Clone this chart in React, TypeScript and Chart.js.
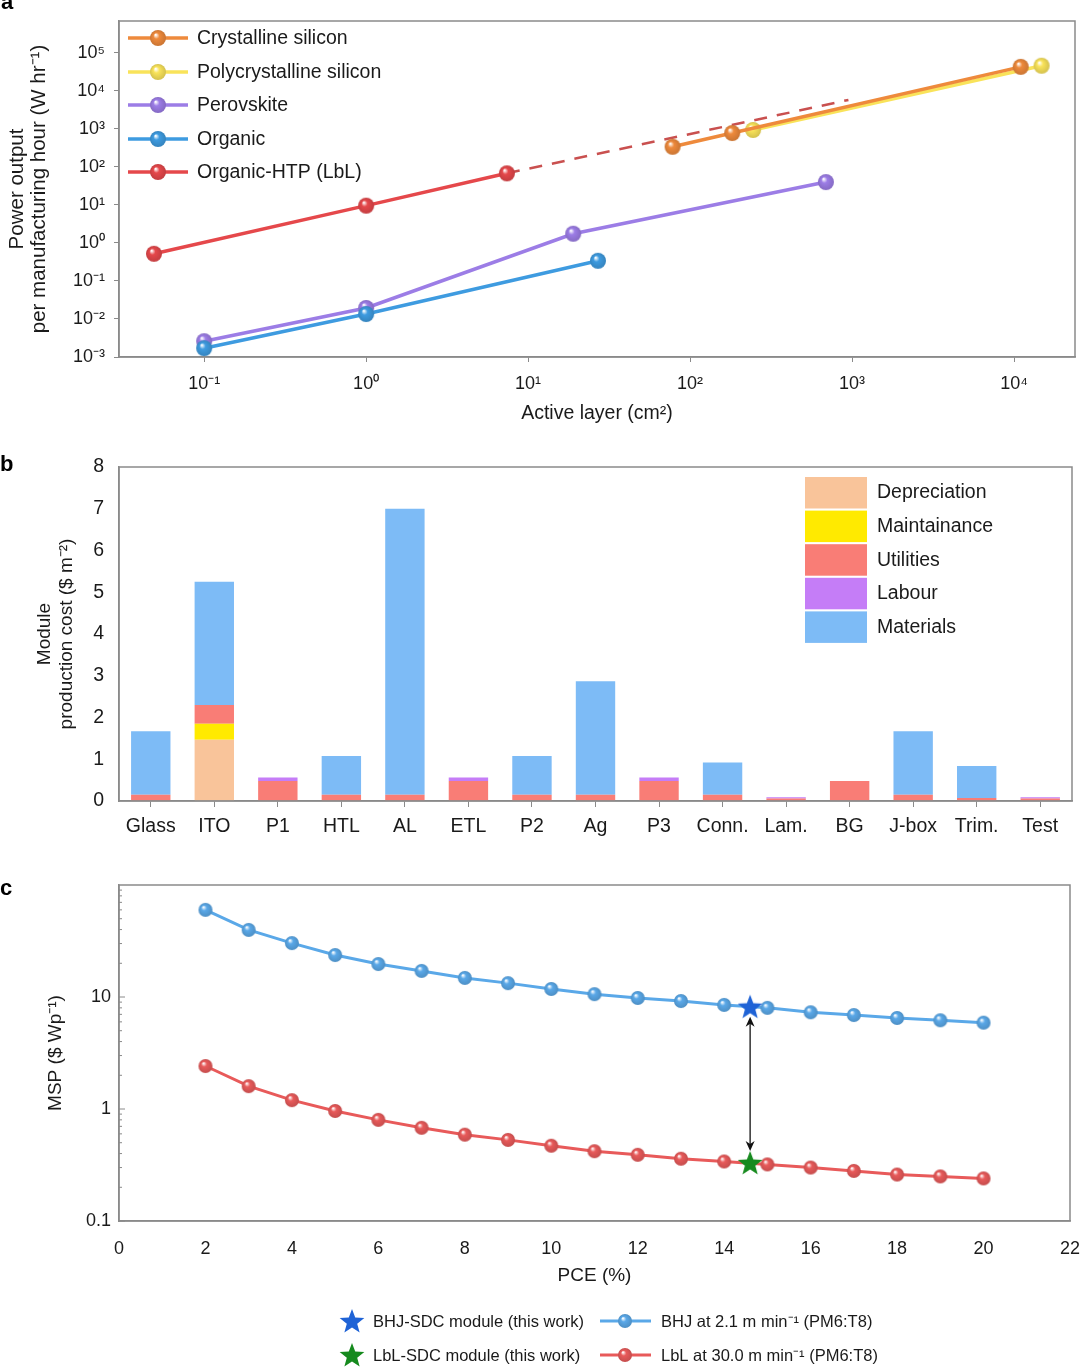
import React, { useEffect, useRef } from "react";
import { Chart, registerables } from "chart.js";
Chart.register(...registerables);

const FONT = "'Liberation Sans', Arial, Helvetica, sans-serif";
const TEXT = "#1a1a1a";
const GRAY = "#8a8a8a";

// ---------- Panel a data ----------
const crystallineX = [78, 182, 11000];
const crystallineY = [340, 780, 43000];
const polyX = [245, 14800];
const polyY = [940, 46000];
const perovskiteX = [0.1, 1, 19, 690];
const perovskiteY = [0.0026, 0.0195, 1.75, 40];
const organicX = [0.1, 1, 27];
const organicY = [0.0017, 0.0135, 0.34];
const lblX = [0.049, 1, 7.4];
const lblY = [0.52, 9.6, 68];
const lblProjX = [7.4, 950];
const lblProjY = [68, 5800];
const aXTicks = [0.1, 1, 10, 100, 1000, 10000];
const aYTicks = [1e-3, 1e-2, 1e-1, 1, 10, 100, 1000, 1e4, 1e5];
const aLegend = ["Crystalline silicon", "Polycrystalline silicon", "Perovskite", "Organic", "Organic-HTP (LbL)"];

// ---------- Panel b data ----------
const bCategories = ["Glass", "ITO", "P1", "HTL", "AL", "ETL", "P2", "Ag", "P3", "Conn.", "Lam.", "BG", "J-box", "Trim.", "Test"];
const depreciation = [0, 1.47, 0, 0, 0, 0, 0, 0, 0, 0, 0, 0, 0, 0, 0];
const maintainance = [0, 0.38, 0, 0, 0, 0, 0, 0, 0, 0, 0, 0, 0, 0, 0];
const utilities = [0.15, 0.45, 0.48, 0.15, 0.15, 0.48, 0.15, 0.15, 0.48, 0.15, 0.06, 0.48, 0.15, 0.07, 0.06];
const labour = [0, 0, 0.08, 0, 0, 0.08, 0, 0, 0.08, 0, 0.03, 0, 0, 0, 0.03];
const materials = [1.52, 2.95, 0, 0.93, 6.85, 0, 0.93, 2.72, 0, 0.77, 0, 0, 1.52, 0.77, 0];
const bLegend = ["Depreciation", "Maintainance", "Utilities", "Labour", "Materials"];

// ---------- Panel c data ----------
const pce = [2, 3, 4, 5, 6, 7, 8, 9, 10, 11, 12, 13, 14, 15, 16, 17, 18, 19, 20];
const bhjMsp = [60, 39.7, 30.3, 23.7, 19.7, 17.1, 14.8, 13.3, 11.8, 10.6, 9.8, 9.2, 8.5, 8.0, 7.3, 6.9, 6.5, 6.2, 5.9];
const lblMsp = [2.42, 1.6, 1.2, 0.96, 0.8, 0.68, 0.59, 0.53, 0.47, 0.42, 0.39, 0.36, 0.34, 0.32, 0.3, 0.28, 0.26, 0.25, 0.24];
const starPce = [14.6];
const bhjStarMsp = [8.2];
const lblStarMsp = [0.33];
const cYTicks = [0.1, 1, 10];
const cLegendStars = ["BHJ-SDC module (this work)", "LbL-SDC module (this work)"];
const cLegendLines = ["BHJ at 2.1 m min\u207B\u00B9 (PM6:T8)", "LbL at 30.0 m min\u207B\u00B9 (PM6:T8)"];

// ---------- colours ----------
const C_CRYST = "#EE8A3C";
const C_POLY = "#F9E35A";
const C_PERO = "#9C7DE6";
const C_ORG = "#3E9BE0";
const C_LBL = "#E5484B";
const C_DEP = "#F9C49A";
const C_MAINT = "#FFEA00";
const C_UTIL = "#F97D76";
const C_LAB = "#C57DF7";
const C_MAT = "#7DBBF6";
const C_BHJC = "#5AA8E8";
const C_LBLC = "#E85A5A";
const C_STAR_B = "#1F63D6";
const C_STAR_G = "#168A1E";

function shade(hex: string, f: number): string {
  const n = parseInt(hex.slice(1), 16);
  let r = (n >> 16) & 255, g = (n >> 8) & 255, b = n & 255;
  r = Math.max(0, Math.min(255, Math.round(r * (1 + f))));
  g = Math.max(0, Math.min(255, Math.round(g * (1 + f))));
  b = Math.max(0, Math.min(255, Math.round(b * (1 + f))));
  return `rgb(${r},${g},${b})`;
}

function makeSphere(color: string, r: number): HTMLCanvasElement {
  const s = Math.ceil(r * 2 + 2);
  const c = document.createElement("canvas");
  c.width = s;
  c.height = s;
  const g = c.getContext("2d")!;
  const cx = s / 2, cy = s / 2;
  const grad = g.createRadialGradient(cx - r * 0.3, cy - r * 0.4, r * 0.05, cx, cy, r);
  grad.addColorStop(0, "#ffffff");
  grad.addColorStop(0.35, color);
  grad.addColorStop(1, shade(color, -0.15));
  g.fillStyle = grad;
  g.beginPath();
  g.arc(cx, cy, r, 0, Math.PI * 2);
  g.fill();
  return c;
}

function makeStar(color: string, R: number): HTMLCanvasElement {
  const s = Math.ceil(R * 2 + 2);
  const c = document.createElement("canvas");
  c.width = s;
  c.height = s;
  const g = c.getContext("2d")!;
  const cx = s / 2, cy = s / 2 + 1;
  g.fillStyle = color;
  g.beginPath();
  for (let i = 0; i < 10; i++) {
    const rr = i % 2 === 0 ? R : R * 0.42;
    const a = -Math.PI / 2 + (i * Math.PI) / 5;
    const x = cx + rr * Math.cos(a), y = cy + rr * Math.sin(a);
    if (i === 0) g.moveTo(x, y);
    else g.lineTo(x, y);
  }
  g.closePath();
  g.fill();
  return c;
}

const SUP: Record<string, string> = {
  "-": "\u207B", "0": "\u2070", "1": "\u00B9", "2": "\u00B2", "3": "\u00B3",
  "4": "\u2074", "5": "\u2075", "6": "\u2076", "7": "\u2077", "8": "\u2078", "9": "\u2079",
};
function powLabel(v: number): string {
  const e = Math.round(Math.log10(v));
  return "10" + String(e).split("").map((ch) => SUP[ch]).join("");
}

function drawBox(ctx: CanvasRenderingContext2D, ca: any) {
  ctx.save();
  ctx.strokeStyle = GRAY;
  ctx.lineWidth = 1.5;
  ctx.strokeRect(ca.left, ca.top, ca.right - ca.left, ca.bottom - ca.top);
  ctx.restore();
}

function drawPanelLetter(ctx: CanvasRenderingContext2D, letter: string, x: number, y: number) {
  ctx.save();
  ctx.font = `bold 22px ${FONT}`;
  ctx.fillStyle = "#000";
  ctx.textBaseline = "alphabetic";
  ctx.textAlign = "left";
  ctx.fillText(letter, x, y);
  ctx.restore();
}

const pts = (xs: number[], ys: number[]) => xs.map((x, i) => ({ x, y: ys[i] }));
const fitX = (h: number) => (s: any) => { s.height = h; s.paddingLeft = 0; s.paddingRight = 0; };
const fitY = (w: number) => (s: any) => { s.width = w; s.paddingTop = 0; s.paddingBottom = 0; };

export default function App() {
  const refA = useRef<HTMLCanvasElement>(null);
  const refB = useRef<HTMLCanvasElement>(null);
  const refC = useRef<HTMLCanvasElement>(null);

  useEffect(() => {
    Chart.defaults.font.family = FONT;
    Chart.defaults.color = TEXT;

    // ---------------- Panel a ----------------
    const aColors = [C_CRYST, C_POLY, C_PERO, C_ORG, C_LBL];
    const aSpheres = aColors.map((c) => makeSphere(c, 8));
    const legendAY = [38, 72, 105, 139, 172];

    const plugA = {
      id: "plugA",
      afterDraw(chart: any) {
        const ctx = chart.ctx as CanvasRenderingContext2D;
        drawBox(ctx, chart.chartArea);
        ctx.save();
        ctx.font = `19.5px ${FONT}`;
        ctx.fillStyle = TEXT;
        ctx.textBaseline = "middle";
        aLegend.forEach((name, i) => {
          const y = legendAY[i];
          ctx.strokeStyle = aColors[i];
          ctx.lineWidth = 3.5;
          ctx.beginPath();
          ctx.moveTo(128, y);
          ctx.lineTo(188, y);
          ctx.stroke();
          const img = aSpheres[i];
          ctx.drawImage(img, 158 - img.width / 2, y - img.height / 2);
          ctx.fillText(name, 197, y + 1);
        });
        ctx.restore();
        drawPanelLetter(ctx, "a", 1, 9);
      },
    };

    const lineDs = (label: string, data: any[], color: string, sphere: HTMLCanvasElement) => ({
      label,
      data,
      showLine: true,
      borderColor: color,
      backgroundColor: color,
      borderWidth: 3.5,
      pointStyle: sphere,
      pointRadius: 8,
    });

    const chartA = new Chart(refA.current!, {
      type: "scatter",
      data: {
        datasets: [
          lineDs(aLegend[4], pts(lblX, lblY), C_LBL, aSpheres[4]),
          lineDs(aLegend[3], pts(organicX, organicY), C_ORG, aSpheres[3]),
          lineDs(aLegend[2], pts(perovskiteX, perovskiteY), C_PERO, aSpheres[2]),
          lineDs(aLegend[0], pts(crystallineX, crystallineY), C_CRYST, aSpheres[0]),
          lineDs(aLegend[1], pts(polyX, polyY), C_POLY, aSpheres[1]),
          {
            label: "LbL projection",
            data: pts(lblProjX, lblProjY),
            showLine: true,
            borderColor: "#C9504F",
            borderWidth: 2.5,
            borderDash: [13, 10],
            pointRadius: 0,
          } as any,
        ],
      },
      options: {
        animation: false,
        responsive: false,
        layout: { autoPadding: false, padding: { left: 0, right: 5, top: 21, bottom: 0 } },
        plugins: { legend: { display: false }, tooltip: { enabled: false } },
        scales: {
          x: {
            type: "logarithmic",
            min: 0.0298,
            max: 23800,
            bounds: "data",
            afterFit: fitX(83),
            afterBuildTicks: (s: any) => { s.ticks = aXTicks.map((v) => ({ value: v })); },
            grid: { display: true, drawOnChartArea: false, drawTicks: true, tickLength: 5, color: GRAY },
            border: { display: true, color: GRAY, width: 1.5 },
            ticks: { font: { size: 18 }, color: TEXT, padding: 11, maxRotation: 0, callback: (v: any) => powLabel(Number(v)) },
            title: { display: true, text: "Active layer (cm\u00B2)", font: { size: 19.5 }, color: TEXT, padding: { top: 0, bottom: 15 } },
          },
          y: {
            type: "logarithmic",
            min: 1e-3,
            max: 10 ** 5.84,
            bounds: "data",
            afterFit: fitY(119),
            afterBuildTicks: (s: any) => { s.ticks = aYTicks.map((v) => ({ value: v })); },
            grid: { display: true, drawOnChartArea: false, drawTicks: true, tickLength: 5, color: GRAY },
            border: { display: true, color: GRAY, width: 1.5 },
            ticks: { font: { size: 18 }, color: TEXT, padding: 9, callback: (v: any) => powLabel(Number(v)) },
            title: {
              display: true,
              text: ["Power output", "per manufacturing hour (W hr\u207B\u00B9)"],
              font: { size: 20.5, lineHeight: 1.1 },
              color: TEXT,
              padding: { top: 6, bottom: 0 },
            },
          },
        },
      } as any,
      plugins: [plugA],
    });

    // ---------------- Panel b ----------------
    const bColors = [C_DEP, C_MAINT, C_UTIL, C_LAB, C_MAT];
    const bSeries = [depreciation, maintainance, utilities, labour, materials];
    const plugB = {
      id: "plugB",
      afterDraw(chart: any) {
        const ctx = chart.ctx as CanvasRenderingContext2D;
        drawBox(ctx, chart.chartArea);
        ctx.save();
        ctx.font = `19.5px ${FONT}`;
        ctx.fillStyle = TEXT;
        ctx.textBaseline = "middle";
        bLegend.forEach((name, i) => {
          const top = 37 + i * 33.6;
          ctx.fillStyle = bColors[i];
          ctx.fillRect(805, top, 62, 31.5);
          ctx.fillStyle = TEXT;
          ctx.fillText(name, 877, top + 16);
        });
        ctx.restore();
        drawPanelLetter(ctx, "b", 0, 31);
      },
    };
    const chartB = new Chart(refB.current!, {
      type: "bar",
      data: {
        labels: bCategories,
        datasets: bLegend.map((name, i) => ({
          label: name,
          data: bSeries[i],
          backgroundColor: bColors[i],
          borderWidth: 0,
          stack: "s",
          barPercentage: 0.62,
          categoryPercentage: 1,
        })),
      },
      options: {
        animation: false,
        responsive: false,
        layout: { autoPadding: false, padding: { left: 0, right: 8, top: 27, bottom: 0 } },
        plugins: { legend: { display: false }, tooltip: { enabled: false } },
        scales: {
          x: {
            stacked: true,
            afterFit: fitX(69),
            grid: { display: true, drawOnChartArea: false, drawTicks: true, tickLength: 6, color: GRAY, offset: false },
            border: { display: true, color: GRAY, width: 1.5 },
            ticks: { font: { size: 19.5 }, color: TEXT, padding: 8, maxRotation: 0, autoSkip: false },
          },
          y: {
            stacked: true,
            min: 0,
            max: 8,
            afterFit: fitY(119),
            grid: { display: true, drawOnChartArea: false, drawTicks: false, color: GRAY },
            border: { display: true, color: GRAY, width: 1.5 },
            ticks: { font: { size: 19.5 }, color: TEXT, padding: 15, stepSize: 1 },
            title: {
              display: true,
              text: ["Module", "production cost ($ m\u207B\u00B2)"],
              font: { size: 19, lineHeight: 1.15 },
              color: TEXT,
              padding: { top: 34, bottom: 0 },
            },
          },
        },
      } as any,
      plugins: [plugB],
    });

    // ---------------- Panel c ----------------
    const sphB = makeSphere(C_BHJC, 7);
    const sphL = makeSphere(C_LBLC, 7);
    const starB = makeStar(C_STAR_B, 13);
    const starG = makeStar(C_STAR_G, 13);
    const plugC = {
      id: "plugC",
      beforeDatasetsDraw(chart: any) {
        const ctx = chart.ctx as CanvasRenderingContext2D;
        const xs = chart.scales.x, ys = chart.scales.y;
        const x = xs.getPixelForValue(starPce[0]);
        const y1 = ys.getPixelForValue(bhjStarMsp[0]) + 10;
        const y2 = ys.getPixelForValue(lblStarMsp[0]) - 12;
        ctx.save();
        ctx.strokeStyle = "#111";
        ctx.fillStyle = "#111";
        ctx.lineWidth = 1.3;
        ctx.beginPath();
        ctx.moveTo(x, y1 + 6);
        ctx.lineTo(x, y2 - 6);
        ctx.stroke();
        ctx.beginPath();
        ctx.moveTo(x, y1);
        ctx.lineTo(x - 4.5, y1 + 10);
        ctx.lineTo(x, y1 + 7);
        ctx.lineTo(x + 4.5, y1 + 10);
        ctx.closePath();
        ctx.fill();
        ctx.beginPath();
        ctx.moveTo(x, y2);
        ctx.lineTo(x - 4.5, y2 - 10);
        ctx.lineTo(x, y2 - 7);
        ctx.lineTo(x + 4.5, y2 - 10);
        ctx.closePath();
        ctx.fill();
        ctx.restore();
      },
      afterDraw(chart: any) {
        const ctx = chart.ctx as CanvasRenderingContext2D;
        const ca = chart.chartArea;
        const ys = chart.scales.y;
        drawBox(ctx, ca);
        ctx.save();
        ctx.strokeStyle = GRAY;
        ctx.lineWidth = 1;
        [0.1, 1, 10].forEach((d) => {
          for (let m = 2; m <= 9; m++) {
            const y = ys.getPixelForValue(d * m);
            ctx.beginPath();
            ctx.moveTo(ca.left, y);
            ctx.lineTo(ca.left + 3, y);
            ctx.stroke();
          }
          const y0 = ys.getPixelForValue(d);
          ctx.beginPath();
          ctx.moveTo(ca.left, y0);
          ctx.lineTo(ca.left + 6, y0);
          ctx.stroke();
        });
        // legend
        ctx.font = `16.5px ${FONT}`;
        ctx.fillStyle = TEXT;
        ctx.textBaseline = "middle";
        const rows = [451, 485];
        const stars = [starB, starG];
        const lcols = [C_BHJC, C_LBLC];
        const sphs = [sphB, sphL];
        rows.forEach((y, i) => {
          ctx.drawImage(stars[i], 352 - stars[i].width / 2, y - stars[i].height / 2);
          ctx.fillStyle = TEXT;
          ctx.fillText(cLegendStars[i], 373, y + 1);
          ctx.strokeStyle = lcols[i];
          ctx.lineWidth = 3;
          ctx.beginPath();
          ctx.moveTo(600, y);
          ctx.lineTo(651, y);
          ctx.stroke();
          ctx.drawImage(sphs[i], 625 - sphs[i].width / 2, y - sphs[i].height / 2);
          ctx.fillStyle = TEXT;
          ctx.fillText(cLegendLines[i], 661, y + 1);
        });
        ctx.restore();
        drawPanelLetter(ctx, "c", 0, 25);
      },
    };
    const chartC = new Chart(refC.current!, {
      type: "scatter",
      data: {
        datasets: [
          { label: cLegendStars[0], data: pts(starPce, bhjStarMsp), pointStyle: starB, pointRadius: 13, showLine: false } as any,
          { label: cLegendStars[1], data: pts(starPce, lblStarMsp), pointStyle: starG, pointRadius: 13, showLine: false } as any,
          { label: cLegendLines[0], data: pts(pce, bhjMsp), showLine: true, borderColor: C_BHJC, borderWidth: 3, pointStyle: sphB, pointRadius: 7 },
          { label: cLegendLines[1], data: pts(pce, lblMsp), showLine: true, borderColor: C_LBLC, borderWidth: 3, pointStyle: sphL, pointRadius: 7 },
        ],
      },
      options: {
        animation: false,
        responsive: false,
        layout: { autoPadding: false, padding: { left: 0, right: 10, top: 15, bottom: 0 } },
        plugins: { legend: { display: false }, tooltip: { enabled: false } },
        scales: {
          x: {
            type: "linear",
            min: 0,
            max: 22,
            afterFit: fitX(148),
            grid: { display: true, drawOnChartArea: false, drawTicks: false, color: GRAY },
            border: { display: true, color: GRAY, width: 1.5 },
            ticks: { font: { size: 18 }, color: TEXT, padding: 17, stepSize: 2, maxRotation: 0 },
            title: { display: true, text: "PCE (%)", font: { size: 19 }, color: TEXT, padding: { top: 0, bottom: 82 } },
          },
          y: {
            type: "logarithmic",
            min: 0.1,
            max: 100,
            bounds: "data",
            afterFit: fitY(119),
            afterBuildTicks: (s: any) => { s.ticks = cYTicks.map((v) => ({ value: v })); },
            grid: { display: true, drawOnChartArea: false, drawTicks: false, color: GRAY },
            border: { display: true, color: GRAY, width: 1.5 },
            ticks: { font: { size: 18 }, color: TEXT, padding: 8, callback: (v: any) => (Number(v) === 0.1 ? "0.1" : String(Number(v))) },
            title: { display: true, text: "MSP ($ Wp\u207B\u00B9)", font: { size: 19 }, color: TEXT, padding: { top: 44, bottom: 0 } },
          },
        },
      } as any,
      plugins: [plugC],
    });

    return () => {
      chartA.destroy();
      chartB.destroy();
      chartC.destroy();
    };
  }, []);

  return (
    <div style={{ position: "absolute", left: 0, top: 0, width: 1080, height: 1369, background: "#fff" }}>
      <canvas ref={refA} width={1080} height={440} style={{ position: "absolute", left: 0, top: 0, display: "block" }} />
      <canvas ref={refB} width={1080} height={430} style={{ position: "absolute", left: 0, top: 440, display: "block" }} />
      <canvas ref={refC} width={1080} height={499} style={{ position: "absolute", left: 0, top: 870, display: "block" }} />
    </div>
  );
}
